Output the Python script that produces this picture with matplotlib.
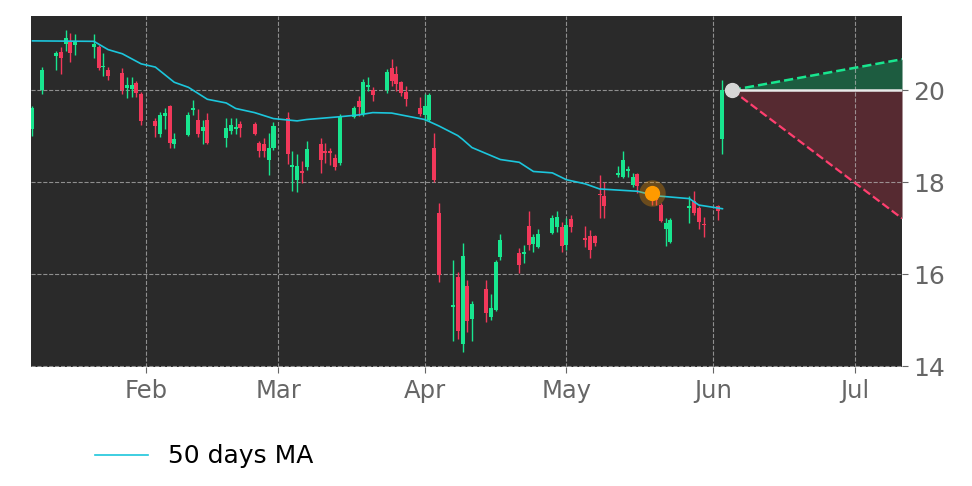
import matplotlib
matplotlib.use("Agg")
import matplotlib.pyplot as plt
import matplotlib.dates as mdates
import numpy as np
import pandas as pd

# trading days (2025, market holidays removed)
holidays = ["2025-01-09", "2025-01-20", "2025-02-17", "2025-04-18", "2025-05-26"]
dates = pd.bdate_range("2025-01-08", "2025-06-03", freq="C", holidays=holidays)

opens = [19.15, 20.00, 20.74, 20.82, 21.00, 21.04, 20.98, 20.93, 20.93, 20.50, 20.43,
         20.37, 20.04, 20.02, 20.15, 19.92,
         19.33, 19.05, 19.44, 19.65, 18.82, 19.02, 19.56, 19.36, 19.12, 19.34,
         18.96, 19.12, 19.15, 19.27, 19.27, 18.85, 18.82, 18.47, 18.75,
         19.40, 18.33, 18.05, 18.25, 18.32, 18.82, 18.67, 18.67, 18.53, 18.42,
         19.42, 19.77, 19.47, 20.06, 20.00, 20.00, 20.48, 20.35, 20.17, 19.95, 19.62,
         19.45, 19.36, 18.75, 17.32, 15.28, 15.93, 14.48, 15.73, 15.02,
         15.68, 15.06, 15.22, 16.37, 16.46, 16.44, 17.04, 16.65, 16.58, 16.90, 17.03, 17.03,
         16.63, 17.19, 16.78, 16.82, 16.82, 17.75, 17.69, 18.15, 18.11, 18.24, 17.94, 18.18,
         17.80, 17.70, 17.50, 16.97, 16.70, 17.43, 17.58, 17.43, 17.09,
         17.47, 18.93]
highs = [19.65, 20.50, 20.85, 20.93, 21.30, 21.25, 21.22, 21.22, 20.98, 20.80, 20.50,
         20.49, 20.28, 20.28, 20.20, 19.96,
         19.40, 19.52, 19.60, 19.68, 19.07, 19.52, 19.78, 19.58, 19.36, 19.50,
         19.40, 19.40, 19.40, 19.32, 19.30, 18.90, 18.96, 19.07, 19.30,
         19.52, 18.67, 18.60, 18.45, 18.89, 18.96, 18.85, 18.75, 18.60, 19.47,
         19.66, 19.88, 20.24, 20.28, 20.06, 20.46, 20.68, 20.53, 20.20, 20.09, 19.84,
         19.91, 19.93, 19.07, 17.55, 16.30, 16.04, 16.67, 15.86, 15.42,
         15.86, 15.57, 16.30, 16.88, 16.56, 16.63, 17.38, 16.88, 16.97, 17.28, 17.36, 17.14,
         17.21, 17.28, 17.04, 16.96, 16.85, 18.16, 18.01, 18.35, 18.67, 18.36, 18.20, 18.20,
         17.90, 17.78, 17.55, 17.21, 17.22, 17.69, 17.80, 17.47, 17.25,
         17.50, 20.22]
lows = [19.00, 19.92, 20.44, 20.35, 20.85, 20.62, 20.76, 20.69, 20.43, 20.30, 20.21,
        19.92, 19.82, 19.84, 19.85, 19.25,
        18.97, 18.97, 19.15, 18.75, 18.75, 19.00, 19.46, 18.97, 18.82, 18.83,
        18.76, 19.04, 19.05, 18.97, 19.02, 18.54, 18.55, 18.16, 18.70,
        18.40, 17.80, 17.78, 17.98, 18.27, 18.20, 18.42, 18.38, 18.27, 18.38,
        19.40, 19.44, 19.44, 19.98, 19.77, 19.93, 20.09, 19.98, 19.88, 19.66, 19.44,
        19.33, 19.33, 18.01, 15.82, 14.55, 14.58, 14.30, 14.73, 14.55,
        14.95, 15.00, 15.20, 16.30, 16.02, 16.23, 16.53, 16.48, 16.56, 16.88, 16.92, 16.48,
        16.52, 16.92, 16.59, 16.34, 16.60, 17.21, 17.21, 18.10, 18.09, 18.12, 17.90, 17.76,
        17.50, 17.50, 17.13, 16.60, 16.68, 17.10, 17.28, 16.99, 16.81,
        17.18, 18.60]
closes = [19.60, 20.44, 20.80, 20.70, 21.14, 20.80, 21.07, 21.01, 20.47, 20.53, 20.30,
          20.00, 20.10, 20.10, 19.93, 19.32,
          19.22, 19.45, 19.51, 18.85, 18.93, 19.46, 19.61, 19.04, 19.20, 18.85,
          19.18, 19.24, 19.20, 19.18, 19.04, 18.67, 18.67, 18.73, 19.22,
          18.60, 18.37, 18.34, 18.20, 18.71, 18.47, 18.64, 18.63, 18.32, 19.42,
          19.62, 19.64, 20.17, 20.11, 19.90, 20.39, 20.20, 20.13, 19.93, 19.80, 19.47,
          19.66, 19.89, 18.05, 15.97, 15.32, 14.77, 16.39, 14.97, 15.34,
          15.15, 15.26, 16.26, 16.74, 16.19, 16.47, 16.63, 16.80, 16.88, 17.21, 17.25, 16.61,
          17.07, 17.03, 16.75, 16.52, 16.68, 17.72, 17.47, 18.20, 18.47, 18.29, 18.12, 17.92,
          17.75, 17.60, 17.15, 17.10, 17.18, 17.48, 17.32, 17.14, 17.06,
          17.36, 20.00]

# 50 day moving average, read at sample dates
ma_dates = pd.to_datetime([
    "2025-01-08", "2025-01-21", "2025-01-24", "2025-01-27", "2025-01-31", "2025-02-03",
    "2025-02-07", "2025-02-10", "2025-02-14", "2025-02-18", "2025-02-20", "2025-02-24",
    "2025-02-28", "2025-03-05", "2025-03-07", "2025-03-14", "2025-03-18", "2025-03-21",
    "2025-03-25", "2025-03-28", "2025-04-01", "2025-04-04", "2025-04-08", "2025-04-09",
    "2025-04-11", "2025-04-17", "2025-04-21", "2025-04-24", "2025-04-28", "2025-05-01",
    "2025-05-05", "2025-05-08", "2025-05-16", "2025-05-20", "2025-05-27", "2025-05-29",
    "2025-06-03"])
ma_values = [21.07, 21.06, 20.88, 20.79, 20.57, 20.50,
             20.17, 20.06, 19.80, 19.72, 19.60, 19.51,
             19.38, 19.33, 19.36, 19.42, 19.46, 19.51,
             19.50, 19.44, 19.36, 19.22, 19.01, 18.93,
             18.75, 18.49, 18.43, 18.23, 18.20, 18.05,
             17.96, 17.85, 17.80, 17.70, 17.64, 17.50,
             17.42]

signal_date = pd.Timestamp("2025-05-19")
signal_price = 17.76

proj_start = pd.Timestamp("2025-06-05")
proj_end = pd.Timestamp("2025-07-11")
proj_base = 20.0
proj_high = 20.67
proj_low = 17.21

GREEN = "#18e68f"
RED = "#f2385a"
BG = "#2a2a2a"

fig = plt.figure(figsize=(9.72, 4.86), dpi=100)
ax = fig.add_axes([0.032, 0.245, 0.896, 0.722])
ax.set_facecolor(BG)

x = mdates.date2num(dates)
o = np.array(opens); h = np.array(highs); l = np.array(lows); c = np.array(closes)
up = c >= o
cols = np.where(up, GREEN, RED)
ax.vlines(x, l, h, colors=cols, lw=1, zorder=2)
bottom = np.minimum(o, c)
height = np.maximum(np.abs(c - o), 0.03)
ax.bar(x, height, bottom=bottom, width=0.85, color=cols, edgecolor=cols, lw=0, zorder=3)

ax.plot(mdates.date2num(ma_dates), ma_values, color="#1cc6dc", lw=1.2, zorder=4,
        label="50 days MA")

# projection cone
px = mdates.date2num([proj_start, proj_end])
ax.fill_between(px, [proj_base, proj_base], [proj_base, proj_high], color="#1d5c40", lw=0, zorder=1)
ax.fill_between(px, [proj_base, proj_base], [proj_base, proj_low], color="#562a31", lw=0, zorder=1)
ax.plot(px, [proj_base, proj_high], ls="--", color=GREEN, lw=1.8, zorder=5)
ax.plot(px, [proj_base, proj_low], ls="--", color="#ff3f6f", lw=1.6, zorder=5)
ax.plot(px, [proj_base, proj_base], color="#e8e8e8", lw=1.8, zorder=5)
ax.plot(px[0], proj_base, "o", ms=10, color="#d6d6d6", zorder=6)

# signal marker
sx = mdates.date2num(signal_date)
ax.plot(sx, signal_price, "o", ms=19, color="#ff9a00", alpha=0.3, mec="none", zorder=6)
ax.plot(sx, signal_price, "o", ms=11, color="#ff9a00", mec="none", zorder=7)

ax.set_xlim(mdates.date2num(pd.Timestamp("2025-01-07 17:00")), px[1])
ax.set_ylim(13.98, 21.61)
ax.set_yticks([14, 16, 18, 20])
ax.yaxis.tick_right()
ax.xaxis.set_major_locator(mdates.MonthLocator())
ax.xaxis.set_major_formatter(mdates.DateFormatter("%b"))
ax.grid(True, ls="--", color="#bbbbbb", lw=0.8, alpha=0.7)
ax.tick_params(axis="x", labelsize=17.5, colors="#666666", length=4, pad=5)
ax.tick_params(axis="y", labelsize=18, colors="#666666", length=4, pad=4)
for s in ax.spines.values():
    s.set_visible(False)

fig.legend(loc="lower left", bbox_to_anchor=(0.075, -0.01), frameon=False, fontsize=18,
           handlelength=2.1)

fig.savefig("out.png", dpi=100)
